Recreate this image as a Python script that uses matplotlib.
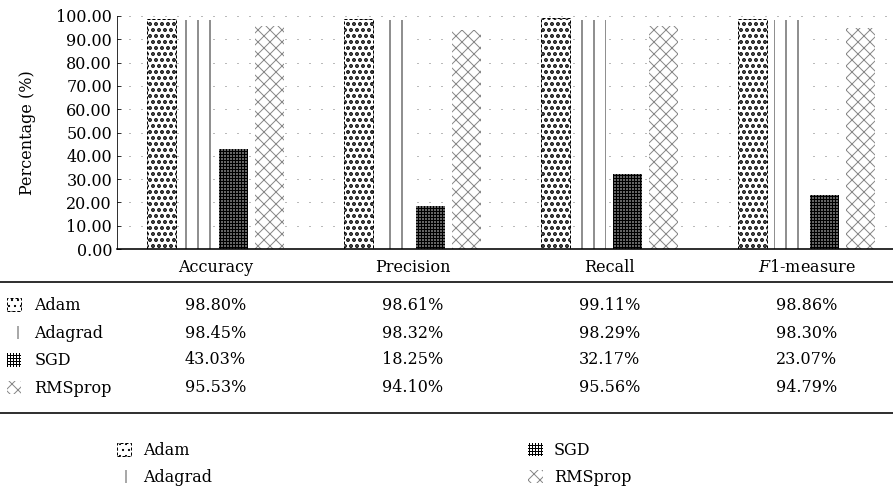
import numpy as np
import matplotlib
matplotlib.use('Agg')
import matplotlib.pyplot as plt
from matplotlib.transforms import blended_transform_factory
from matplotlib.lines import Line2D

plt.rcParams['font.family'] = 'DejaVu Serif'
plt.rcParams['mathtext.fontset'] = 'dejavuserif'
plt.rcParams['hatch.linewidth'] = 1.0

metrics = ['Accuracy', 'Precision', 'Recall', '$F$1-measure']
optimizers = ['Adam', 'Adagrad', 'SGD', 'RMSprop']
adam = [98.80, 98.61, 99.11, 98.86]
adagrad = [98.45, 98.32, 98.29, 98.30]
sgd = [43.03, 18.25, 32.17, 23.07]
rmsprop = [95.53, 94.10, 95.56, 94.79]
series = [adam, adagrad, sgd, rmsprop]
yticks = np.arange(0, 101, 10)

fig = plt.figure(figsize=(893/72, 492/72), dpi=72)
ax = fig.add_axes([117/893, 1-249/492, 788/893, 233/492])

x = np.arange(len(metrics))
w = 0.147
step = 0.183
styles = [
    dict(facecolor='white', edgecolor='black', hatch='..', linestyle=(0, (3, 2)), linewidth=1),
    dict(facecolor='white', edgecolor='#555555', hatch='|', linewidth=0),
    dict(facecolor='white', edgecolor='black', hatch='++++', linewidth=0),
    dict(facecolor='white', edgecolor='#888888', hatch='xx', linewidth=0),
]
hatch_lw = [2.6, 1.3, 1.6, 1.0]
bars = []
for i in range(4):
    b = ax.bar(x + (i-1.5)*step, series[i], w, label=optimizers[i], **styles[i])
    for p in b:
        if hasattr(p, 'set_hatch_linewidth'):
            p.set_hatch_linewidth(hatch_lw[i])
    bars.append(b)

ax.set_xlim(-0.5, 3.5)
ax.set_ylim(0, 100)
ax.set_yticks(yticks)
ax.set_yticklabels(['%.2f' % t for t in yticks], fontsize=16)
ax.tick_params(axis='y', direction='in', length=4, pad=5)
ax.set_xticks(x)
ax.set_xticklabels(metrics, fontsize=16)
ax.tick_params(axis='x', length=0, pad=10)
ax.yaxis.grid(True, linestyle=(0, (1, 11)), color='#777777', linewidth=1)
ax.set_axisbelow(True)
for s in ['top', 'right']:
    ax.spines[s].set_visible(False)
ax.spines['bottom'].set_linewidth(1.6)
ax.set_ylabel('Percentage (%)', fontsize=16)
ax.yaxis.set_label_coords(-0.103, 0.5)

# table below the chart
tr = blended_transform_factory(ax.transData, fig.transFigure)
row_y = [305, 333, 360, 388]
for i in range(4):
    for j in range(4):
        fig.text(x[j], 1-row_y[i]/492, '%.2f%%' % series[i][j], transform=tr,
                 ha='center', va='center', fontsize=16)

for yy in [282, 413]:
    fig.add_artist(Line2D([0, 1], [1-yy/492, 1-yy/492], color='black', linewidth=1.6,
                          transform=fig.transFigure))

fig.legend(handles=bars, labels=optimizers, loc='upper left',
           bbox_to_anchor=(7/893, 1-297/492), frameon=False, fontsize=16,
           handlelength=0.9, handleheight=0.9, handletextpad=0.8,
           labelspacing=0.67, borderpad=0, borderaxespad=0)

fig.legend(handles=bars, labels=optimizers, loc='upper left', ncol=2,
           bbox_to_anchor=(117/893, 1-442/492), frameon=False, fontsize=16,
           handlelength=0.9, handleheight=0.9, handletextpad=0.7,
           labelspacing=0.63, columnspacing=19.8, borderpad=0, borderaxespad=0)

fig.savefig('out.png', dpi=72)
